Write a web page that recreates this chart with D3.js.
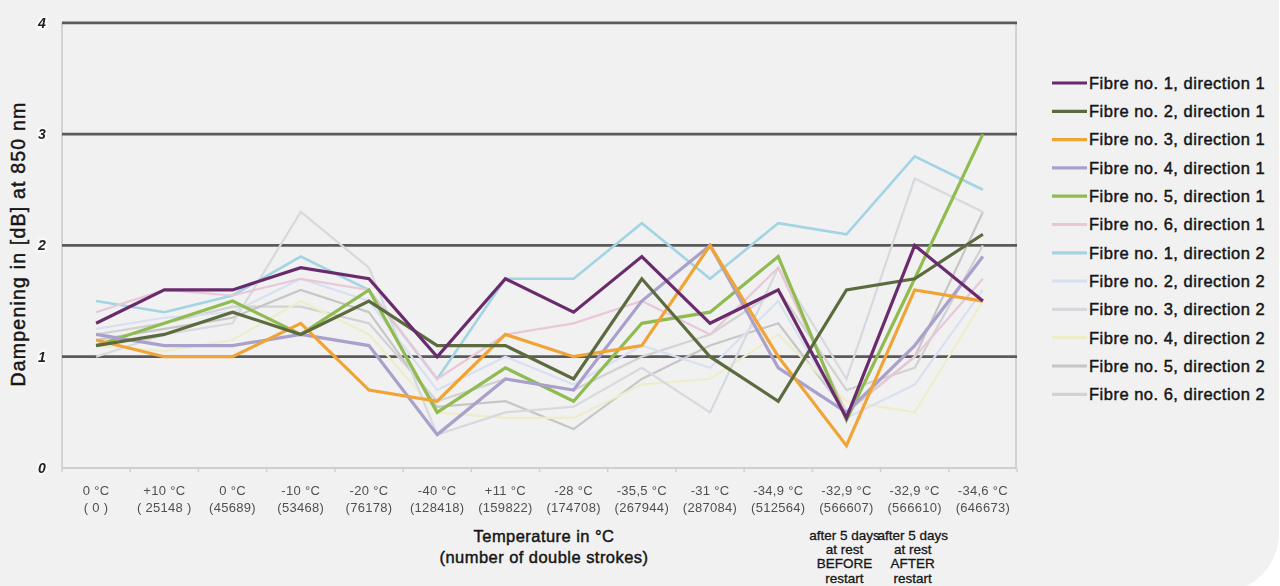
<!DOCTYPE html>
<html>
<head>
<meta charset="utf-8">
<script src="https://cdn.jsdelivr.net/npm/d3@7"></script>
<style>
  html, body { margin: 0; padding: 0; background: #ffffff; }
  svg { display: block; font-family: "Liberation Sans", Arial, Helvetica, sans-serif; }
  .medium { stroke: #151515; stroke-width: 0.45px; }
</style>
</head>
<body>
<svg id="chart" width="1280" height="586"></svg>
<script>
// Measurement points: temperature and number of double strokes
const tempLabels = ["0 °C", "+10 °C", "0 °C", "-10 °C", "-20 °C", "-40 °C", "+11 °C", "-28 °C",
                    "-35,5 °C", "-31 °C", "-34,9 °C", "-32,9 °C", "-32,9 °C", "-34,6 °C"];
const strokeLabels = ["( 0 )", "( 25148 )", "(45689)", "(53468)", "(76178)", "(128418)", "(159822)",
                      "(174708)", "(267944)", "(287084)", "(512564)", "(566607)", "(566610)", "(646673)"];

// Dampening in dB at 850 nm, one array per fibre and direction
const fibre1dir1 = [1.3, 1.6, 1.6, 1.8, 1.7, 1.0, 1.7, 1.4, 1.9, 1.3, 1.6, 0.45, 2.0, 1.5];
const fibre2dir1 = [1.1, 1.2, 1.4, 1.2, 1.5, 1.1, 1.1, 0.8, 1.7, 1.0, 0.6, 1.6, 1.7, 2.1];
const fibre3dir1 = [1.15, 1.0, 1.0, 1.3, 0.7, 0.6, 1.2, 1.0, 1.1, 2.0, 1.0, 0.2, 1.6, 1.5];
const fibre4dir1 = [1.2, 1.1, 1.1, 1.2, 1.1, 0.3, 0.8, 0.7, 1.5, 2.0, 0.9, 0.5, 1.1, 1.9];
const fibre5dir1 = [1.1, 1.3, 1.5, 1.2, 1.6, 0.5, 0.9, 0.6, 1.3, 1.4, 1.9, 0.43, 1.7, 3.0];
const fibre6dir1 = [1.4, 1.6, 1.55, 1.7, 1.6, 0.8, 1.2, 1.3, 1.5, 1.2, 1.8, 0.5, 1.0, 1.7];
const fibre1dir2 = [1.5, 1.4, 1.55, 1.9, 1.6, 0.8, 1.7, 1.7, 2.2, 1.7, 2.2, 2.1, 2.8, 2.5];
const fibre2dir2 = [1.25, 1.35, 1.4, 1.7, 1.5, 0.7, 1.0, 0.75, 1.1, 0.9, 1.5, 0.45, 0.75, 1.6];
const fibre3dir2 = [1.0, 1.2, 1.3, 2.3, 1.8, 0.3, 0.5, 0.55, 0.9, 0.5, 1.8, 0.8, 2.6, 2.3];
const fibre4dir2 = [1.1, 1.05, 1.15, 1.5, 1.2, 0.5, 0.45, 0.45, 0.75, 0.8, 1.2, 0.6, 0.5, 1.5];
const fibre5dir2 = [1.15, 1.25, 1.35, 1.6, 1.4, 0.55, 0.6, 0.35, 0.8, 1.1, 1.3, 0.5, 1.0, 2.3];
const fibre6dir2 = [1.2, 1.3, 1.45, 1.45, 1.3, 0.6, 0.8, 0.7, 1.0, 1.2, 1.6, 0.7, 0.9, 2.0];

const seriesNames = ["Fibre no. 1, direction 1", "Fibre no. 2, direction 1", "Fibre no. 3, direction 1",
                     "Fibre no. 4, direction 1", "Fibre no. 5, direction 1", "Fibre no. 6, direction 1",
                     "Fibre no. 1, direction 2", "Fibre no. 2, direction 2", "Fibre no. 3, direction 2",
                     "Fibre no. 4, direction 2", "Fibre no. 5, direction 2", "Fibre no. 6, direction 2"];
const seriesValues = [fibre1dir1, fibre2dir1, fibre3dir1, fibre4dir1, fibre5dir1, fibre6dir1,
                      fibre1dir2, fibre2dir2, fibre3dir2, fibre4dir2, fibre5dir2, fibre6dir2];
const seriesColors = ["#6a2b6c", "#5c6a3f", "#f0a435", "#a9a0cc", "#8fbb51", "#e8c8d8",
                      "#a2d4e4", "#d9e0f2", "#d6d9de", "#eeedc9", "#c6c6c6", "#d2d2d2"];

const yTicks = [0, 1, 2, 3, 4];
const gridValues = [1, 2, 3, 4];

// Notes below the two "at rest" measurements
const restNotes = [
  { at: 11, lines: ["after 5 days", "at rest", "BEFORE", "restart"] },
  { at: 12, lines: ["after 5 days", "at rest", "AFTER", "restart"] }
];

const svg = d3.select("#chart");

const defs = svg.append("defs");
defs.append("filter").attr("id", "soft")
  .append("feGaussianBlur").attr("stdDeviation", 0.55);
defs.append("filter").attr("id", "halo")
  .append("feGaussianBlur").attr("stdDeviation", 1.4);

// Panel background with the rounded lower-right corner
svg.append("rect")
  .attr("x", -80).attr("y", -80)
  .attr("width", 1359).attr("height", 673)
  .attr("rx", 60).attr("ry", 60)
  .attr("fill", "#f1f1f1");

const plotLeft = 62, plotRight = 1017, plotTop = 22.8, plotBottom = 468;

const x = d3.scaleBand().domain(d3.range(tempLabels.length)).range([plotLeft, plotRight]).padding(0);
const cx = i => x(i) + x.bandwidth() / 2;
const y = d3.scaleLinear().domain([0, 4]).range([plotBottom, plotTop]);

// Frame lines of the plot area
svg.append("line").attr("x1", plotLeft).attr("x2", plotLeft).attr("y1", plotTop).attr("y2", plotBottom)
  .attr("stroke", "#d3d3d3").attr("stroke-width", 2);
svg.append("line").attr("x1", plotRight - 1).attr("x2", plotRight - 1).attr("y1", plotTop).attr("y2", plotBottom)
  .attr("stroke", "#d3d3d3").attr("stroke-width", 2);

// Bottom axis line with ticks on the category boundaries
svg.append("line").attr("x1", plotLeft).attr("x2", plotRight).attr("y1", plotBottom).attr("y2", plotBottom)
  .attr("stroke", "#cfcfcf").attr("stroke-width", 2);
const boundaries = d3.range(tempLabels.length + 1).map(i => i < tempLabels.length ? x(i) : plotRight);
svg.append("g").selectAll("line").data(boundaries).join("line")
  .attr("x1", d => d).attr("x2", d => d)
  .attr("y1", plotBottom).attr("y2", plotBottom + 4)
  .attr("stroke", "#d0d0d0").attr("stroke-width", 1.5);

// Horizontal grid lines
svg.append("g").selectAll("line").data(gridValues).join("line")
  .attr("x1", plotLeft).attr("x2", plotRight)
  .attr("y1", d => y(d)).attr("y2", d => y(d))
  .attr("stroke", "#5a5a5a").attr("stroke-width", 2.8);

// Y tick labels (bold italic digits with a light halo)
const yLab = svg.append("g");
yLab.selectAll("text.h").data(yTicks).join("text")
  .attr("class", "h")
  .attr("x", 42).attr("y", d => y(d) + 5)
  .attr("text-anchor", "middle")
  .attr("font-size", 14).attr("font-weight", "bold").attr("font-style", "italic")
  .attr("fill", "#ffffff").attr("stroke", "#ffffff").attr("stroke-width", 3)
  .attr("filter", "url(#halo)")
  .text(d => d);
yLab.selectAll("text.t").data(yTicks).join("text")
  .attr("class", "t")
  .attr("x", 42).attr("y", d => y(d) + 5)
  .attr("text-anchor", "middle")
  .attr("font-size", 14).attr("font-weight", "bold").attr("font-style", "italic")
  .attr("fill", "#222")
  .attr("filter", "url(#soft)")
  .text(d => d);

// Y axis title
svg.append("text")
  .attr("class", "medium")
  .attr("transform", "translate(25,244) rotate(-90)")
  .attr("text-anchor", "middle")
  .attr("font-size", 19.5)
  .attr("letter-spacing", 1.2)
  .attr("fill", "#151515")
  .text("Dampening in [dB] at 850 nm");

// X tick labels, two rows per category
const xLab = svg.append("g").attr("filter", "url(#soft)");
xLab.selectAll("text.temp").data(tempLabels).join("text")
  .attr("class", "temp")
  .attr("x", (d, i) => cx(i)).attr("y", 495)
  .attr("text-anchor", "middle")
  .attr("font-size", 13).attr("letter-spacing", 0.3).attr("fill", "#505050")
  .text(d => d);
xLab.selectAll("text.strokes").data(strokeLabels).join("text")
  .attr("class", "strokes")
  .attr("x", (d, i) => cx(i)).attr("y", 512)
  .attr("text-anchor", "middle")
  .attr("font-size", 13).attr("letter-spacing", 0.3).attr("fill", "#505050")
  .text(d => d);

// X axis title
const xTitle = svg.append("text")
  .attr("class", "medium")
  .attr("text-anchor", "middle")
  .attr("font-size", 16.5).attr("letter-spacing", 0.45)
  .attr("fill", "#151515");
xTitle.append("tspan").attr("x", 544).attr("y", 542).text("Temperature in °C");
xTitle.append("tspan").attr("x", 544).attr("y", 563).text("(number of double strokes)");

// Notes under the rest measurements
restNotes.forEach(n => {
  const t = svg.append("text")
    .attr("class", "medium")
    .attr("text-anchor", "middle")
    .attr("font-size", 13.5).attr("fill", "#151515")
    .style("stroke-width", "0.3px");
  n.lines.forEach((s, k) => {
    t.append("tspan").attr("x", cx(n.at) - 2).attr("y", 540 + k * 14.2).text(s);
  });
});

// Series lines, drawn so that direction-1 fibres sit on top
const line = d3.line().x((d, i) => cx(i)).y(d => y(d));
const order = d3.range(seriesValues.length).reverse();
svg.append("g").selectAll("path").data(order).join("path")
  .attr("d", k => line(seriesValues[k]))
  .attr("fill", "none")
  .attr("stroke", k => seriesColors[k])
  .attr("stroke-width", k => k < 5 ? 3.2 : (k === 6 ? 2.6 : 2.2))
  .attr("stroke-linejoin", "miter");

// Legend
const legend = svg.append("g");
const rows = legend.selectAll("g").data(seriesNames).join("g")
  .attr("transform", (d, i) => `translate(0, ${83 + i * 28.3})`);
rows.append("line")
  .attr("x1", 1052).attr("x2", 1087).attr("y1", 0).attr("y2", 0)
  .attr("stroke", (d, i) => seriesColors[i]).attr("stroke-width", 3.2);
rows.append("text")
  .attr("class", "medium")
  .attr("x", 1089).attr("y", 5.8)
  .attr("font-size", 16.5).attr("letter-spacing", 0.5)
  .attr("fill", "#151515")
  .text(d => d);
</script>
</body>
</html>
